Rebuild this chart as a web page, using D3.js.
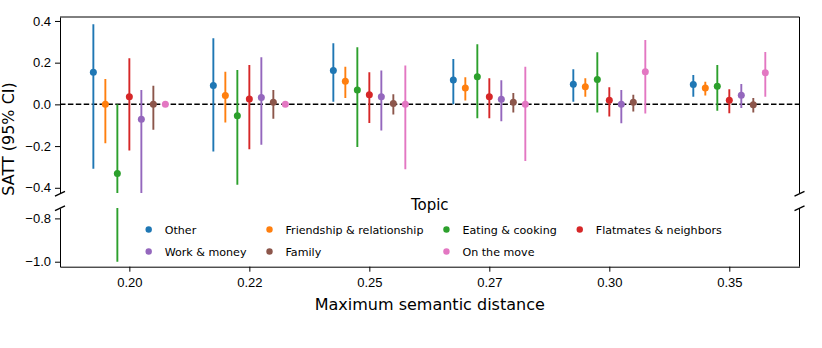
<!DOCTYPE html>
<html>
<head>
<meta charset="utf-8">
<script src="https://cdn.jsdelivr.net/npm/d3@7"></script>
<style>
body { margin: 0; background: #fff; }
svg { font-family: "DejaVu Sans", sans-serif; }
</style>
</head>
<body>
<script>
const distances = ["0.20", "0.22", "0.25", "0.27", "0.30", "0.35"];
const topics = ["Other", "Friendship & relationship", "Eating & cooking", "Flatmates & neighbors",
                "Work & money", "Family", "On the move"];
const palette = ["#1f77b4", "#ff7f0e", "#2ca02c", "#d62728", "#9467bd", "#8c564b", "#e377c2"];

// one row per topic, one column per distance
const estimates = [
  [0.154, 0.090, 0.162, 0.117, 0.097, 0.095],
  [0.000, 0.042, 0.111, 0.079, 0.085, 0.078],
  [-0.331, -0.055, 0.069, 0.133, 0.119, 0.087],
  [0.037, 0.026, 0.046, 0.037, 0.020, 0.020],
  [-0.071, 0.033, 0.036, 0.025, 0.000, 0.044],
  [0.001, 0.010, 0.004, 0.010, 0.010, -0.002],
  [0.000, 0.000, 0.000, 0.000, 0.156, 0.152]
];
const lower = [
  [-0.309, -0.226, 0.013, 0.000, 0.013, 0.037],
  [-0.186, -0.087, 0.030, 0.018, 0.037, 0.042],
  [-1.000, -0.386, -0.205, -0.066, -0.039, -0.031],
  [-0.221, -0.215, -0.089, -0.066, -0.058, -0.042],
  [-0.470, -0.194, -0.125, -0.081, -0.090, -0.017],
  [-0.122, -0.069, -0.049, -0.039, -0.034, -0.039],
  [0.000, 0.000, -0.311, -0.271, -0.044, 0.036]
];
const upper = [
  [0.384, 0.317, 0.293, 0.217, 0.169, 0.141],
  [0.122, 0.157, 0.181, 0.130, 0.125, 0.109],
  [0.000, 0.165, 0.274, 0.288, 0.250, 0.189],
  [0.221, 0.189, 0.154, 0.125, 0.082, 0.073],
  [0.069, 0.226, 0.162, 0.116, 0.069, 0.098],
  [0.089, 0.069, 0.049, 0.054, 0.046, 0.030],
  [0.000, 0.000, 0.186, 0.181, 0.309, 0.251]
];
const topTicks = [-0.4, -0.2, 0.0, 0.2, 0.4];
const bottomTicks = [-1.0, -0.8];

const width = 822, height = 348;
const left = 60, right = 799.5;

const svg = d3.select("body").append("svg")
    .attr("width", width)
    .attr("height", height);

svg.append("rect").attr("width", width).attr("height", height).attr("fill", "#fff");

const x = d3.scaleLinear().domain([-0.578, 5.585]).range([left, right]);
const dodge = 0.1;

let rows = [];
topics.forEach((name, t) => {
    distances.forEach((dist, i) => {
        rows.push({ t, i, est: estimates[t][i], lo: lower[t][i], hi: upper[t][i] });
    });
});
const xPos = d => x(d.i + (d.t - (topics.length - 1) / 2) * dodge);

const panels = [
    { id: "top", y: d3.scaleLinear().domain([-0.425, 0.419]).range([193, 17]), ticks: topTicks },
    { id: "bottom", y: d3.scaleLinear().domain([-1.023, -0.752]).range([266.7, 208]), ticks: bottomTicks }
];

const fmt = d3.format(".1f");

panels.forEach(p => {
    let [y0, y1] = p.y.range();

    svg.append("clipPath").attr("id", "clip-" + p.id)
        .append("rect")
        .attr("x", left).attr("y", y1)
        .attr("width", right - left).attr("height", y0 - y1);

    let yAxis = svg.append("g")
        .attr("transform", `translate(${left},0)`)
        .call(d3.axisLeft(p.y).tickValues(p.ticks).tickFormat(fmt)
            .tickSize(5).tickPadding(4).tickSizeOuter(0));
    yAxis.selectAll("text").attr("font-size", 13).attr("fill", "#000");
    yAxis.selectAll("line, path").attr("stroke", "#000");

    // right spine
    svg.append("line")
        .attr("x1", right).attr("x2", right)
        .attr("y1", y0).attr("y2", y1)
        .attr("stroke", "#000");

    if (p.id === "top") {
        svg.append("line")
            .attr("x1", left).attr("x2", right)
            .attr("y1", y1).attr("y2", y1)
            .attr("stroke", "#000");
        svg.append("line")
            .attr("x1", left).attr("x2", right)
            .attr("y1", p.y(0)).attr("y2", p.y(0))
            .attr("stroke", "#000")
            .attr("stroke-width", 1.5)
            .attr("stroke-dasharray", "5.5,2.4");
    } else {
        let xAxis = svg.append("g")
            .attr("transform", `translate(0,${y0})`)
            .call(d3.axisBottom(x).tickValues(d3.range(distances.length))
                .tickFormat(i => distances[i]).tickSize(5).tickPadding(6).tickSizeOuter(0));
        xAxis.selectAll("text").attr("font-size", 13).attr("fill", "#000");
        xAxis.selectAll("line, path").attr("stroke", "#000");
    }

    let g = svg.append("g").attr("clip-path", `url(#clip-${p.id})`);

    g.selectAll("line.ci")
        .data(rows)
        .enter().append("line")
        .attr("class", "ci")
        .attr("x1", xPos).attr("x2", xPos)
        .attr("y1", d => p.y(d.lo))
        .attr("y2", d => p.y(d.hi))
        .attr("stroke", d => palette[d.t])
        .attr("stroke-width", 1.9);

    g.selectAll("circle")
        .data(rows)
        .enter().append("circle")
        .attr("cx", xPos)
        .attr("cy", d => p.y(d.est))
        .attr("r", 3.5)
        .attr("fill", d => palette[d.t]);
});

// break marks
[193.8, 208.3].forEach(yb => {
    [left, right].forEach(xb => {
        svg.append("line")
            .attr("x1", xb - 5).attr("y1", yb + 2.4)
            .attr("x2", xb + 5).attr("y2", yb - 2.4)
            .attr("stroke", "#000")
            .attr("stroke-width", 1.3);
    });
});

// labels
svg.append("text")
    .attr("transform", "translate(14,139) rotate(-90)")
    .attr("text-anchor", "middle")
    .attr("font-size", 16)
    .text("SATT (95% CI)");

svg.append("text")
    .attr("x", (left + right) / 2).attr("y", 310)
    .attr("text-anchor", "middle")
    .attr("font-size", 16)
    .text("Maximum semantic distance");

// legend, 4 columns
const legendCols = 4;
const legend = svg.append("g");
legend.append("text")
    .attr("x", (left + right) / 2).attr("y", 210)
    .attr("text-anchor", "middle")
    .attr("font-size", 15)
    .text("Topic");

let items = legend.selectAll("g.item")
    .data(topics)
    .enter().append("g")
    .attr("class", "item");

items.append("circle")
    .attr("r", 3.2)
    .attr("fill", (d, i) => palette[i]);

items.append("text")
    .attr("x", 16)
    .attr("y", 4)
    .attr("font-size", 11.1)
    .text(d => d);

let colWidths = d3.range(legendCols).map(c => {
    let w = 0;
    items.filter((d, i) => i % legendCols === c)
        .select("text").each(function(){ w = Math.max(w, this.getComputedTextLength()); });
    return w;
});
const colGap = 23;
let colX = [];
let cx = 0;
colWidths.forEach((w, c) => { colX.push(cx); cx += 16 + w + colGap; });
let totalW = cx - colGap + 11;
let startX = (left + right) / 2 - totalW / 2 + 11;

items.attr("transform", (d, i) =>
    `translate(${startX + colX[i % legendCols]},${229.5 + Math.floor(i / legendCols) * 22})`);
</script>
</body>
</html>
